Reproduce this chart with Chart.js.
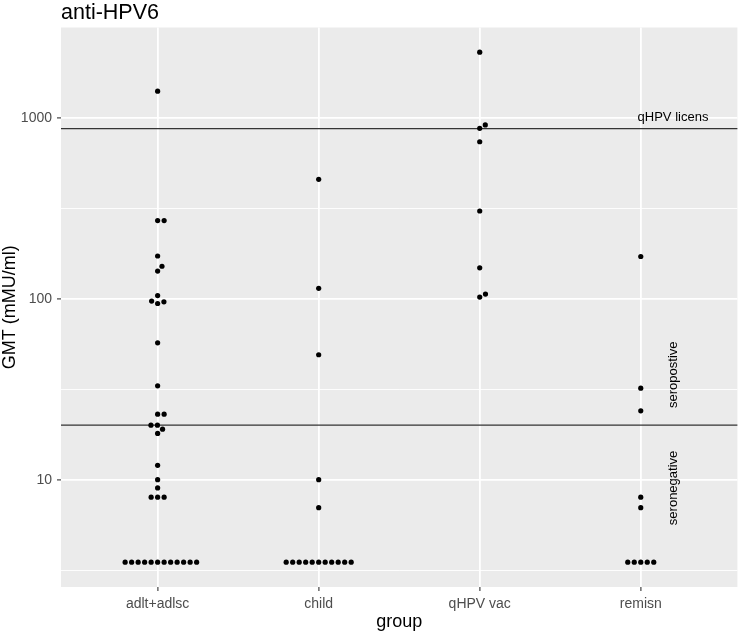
<!DOCTYPE html>
<html>
<head>
<meta charset="utf-8">
<script src="https://cdn.jsdelivr.net/npm/chart.js@4/dist/chart.umd.min.js"></script>
<style>
  html, body { margin: 0; padding: 0; background: #ffffff; }
  canvas { display: block; }
</style>
</head>
<body>
<canvas id="myChart" width="740" height="632"></canvas>
<script>
var groups = ["adlt+adlsc", "child", "qHPV vac", "remisn"];

// GMT values, one list per group
var adultGmt = [1400, 270, 270, 172, 151, 142, 104, 97, 96, 94, 57, 33, 23, 23, 20, 20, 19, 18, 12, 10, 9, 8, 8, 8,
                3.5, 3.5, 3.5, 3.5, 3.5, 3.5, 3.5, 3.5, 3.5, 3.5, 3.5, 3.5];
var childGmt = [456, 114, 49, 10, 7,
                3.5, 3.5, 3.5, 3.5, 3.5, 3.5, 3.5, 3.5, 3.5, 3.5, 3.5];
var vacGmt = [2300, 911, 873, 736, 305, 148, 106, 102];
var remisnGmt = [171, 32, 24, 8, 7, 3.5, 3.5, 3.5, 3.5, 3.5];
var series = [adultGmt, childGmt, vacGmt, remisnGmt];

var yTicks = [10, 100, 1000];
var yTickLabels = ["10", "100", "1000"];
var yMinorGrid = [3.162, 31.62, 316.2];

var refLines = [870, 20];
var notes = [
    { text: "qHPV licens", x: 4.2, y: 1000, rotate: false },
    { text: "seropostive", x: 4.2, y: 38, rotate: true },
    { text: "seronegative", x: 4.2, y: 9, rotate: true }
];

var fontFamily = "'Liberation Sans', Arial, sans-serif";
var dotGap = 6.5;

var datasets = series.map(function (vals, gi) {
    return {
        label: groups[gi],
        data: vals.map(function (v) { return { x: gi + 1, y: v }; }),
        backgroundColor: "#000000",
        borderWidth: 0,
        pointRadius: 2.6,
        pointHoverRadius: 2.6
    };
});

function isMajor(v) {
    return yTicks.some(function (t) { return Math.abs(t - v) < 1e-6; });
}

var panelPlugin = {
    id: "panel",
    beforeDraw: function (chart) {
        var c = chart.ctx, a = chart.chartArea;
        c.save();
        c.fillStyle = "#EBEBEB";
        c.fillRect(a.left, a.top, a.right - a.left, a.bottom - a.top);
        c.restore();
    },
    beforeDatasetsDraw: function (chart) {
        var c = chart.ctx, a = chart.chartArea;
        var xs = chart.scales.x, ys = chart.scales.y;
        c.save();
        c.strokeStyle = "#333333";
        c.lineWidth = 1.3;
        refLines.forEach(function (v) {
            var py = ys.getPixelForValue(v);
            c.beginPath();
            c.moveTo(a.left, py);
            c.lineTo(a.right, py);
            c.stroke();
        });
        c.fillStyle = "#000000";
        c.font = "13px " + fontFamily;
        c.textAlign = "center";
        c.textBaseline = "middle";
        notes.forEach(function (n) {
            var px = xs.getPixelForValue(n.x), py = ys.getPixelForValue(n.y);
            c.save();
            c.translate(px, py);
            if (n.rotate) c.rotate(-Math.PI / 2);
            c.fillText(n.text, 0, 0);
            c.restore();
        });
        c.restore();
    },
    afterDraw: function (chart) {
        var c = chart.ctx, a = chart.chartArea;
        c.save();
        c.fillStyle = "#000000";
        c.font = "21.5px " + fontFamily;
        c.textAlign = "left";
        c.textBaseline = "alphabetic";
        c.fillText("anti-HPV6", a.left, 19);

        c.font = "18px " + fontFamily;
        c.textAlign = "center";
        c.fillText("group", (a.left + a.right) / 2, 626.5);

        c.translate(10, (a.top + a.bottom) / 2);
        c.rotate(-Math.PI / 2);
        c.textBaseline = "middle";
        c.fillText("GMT (mMU/ml)", 0, 0);
        c.restore();
    }
};

var ctx = document.getElementById("myChart");
var myChart = new Chart(ctx, {
    type: "scatter",
    data: { datasets: datasets },
    options: {
        responsive: false,
        animation: false,
        events: [],
        layout: { padding: { top: 27.5, right: 1, left: 0, bottom: 0 } },
        plugins: {
            legend: { display: false },
            tooltip: { enabled: false },
            title: { display: false }
        },
        scales: {
            x: {
                type: "linear",
                min: 0.4,
                max: 4.6,
                afterBuildTicks: function (s) {
                    s.ticks = groups.map(function (g, i) { return { value: i + 1 }; });
                },
                afterFit: function (s) { s.height = 45; },
                border: { display: false },
                grid: {
                    color: "#FFFFFF",
                    lineWidth: 1.8,
                    tickLength: 4,
                    tickColor: "#333333",
                    tickWidth: 1.1
                },
                ticks: {
                    autoSkip: false,
                    maxRotation: 0,
                    padding: 5,
                    color: "#4D4D4D",
                    font: { family: fontFamily, size: 14 },
                    callback: function (v) { return groups[Math.round(v) - 1] || ""; }
                }
            },
            y: {
                type: "logarithmic",
                min: Math.pow(10, 0.407),
                max: Math.pow(10, 3.498),
                afterBuildTicks: function (s) {
                    var all = yMinorGrid.concat(yTicks).sort(function (p, q) { return p - q; });
                    s.ticks = all.map(function (v) { return { value: v }; });
                },
                afterFit: function (s) { s.width = 61; },
                border: { display: false },
                grid: {
                    color: "#FFFFFF",
                    lineWidth: function (c) { return c.tick && isMajor(c.tick.value) ? 1.8 : 0.9; },
                    tickLength: 4,
                    tickColor: function (c) { return c.tick && isMajor(c.tick.value) ? "#333333" : "rgba(0,0,0,0)"; },
                    tickWidth: 1.1
                },
                ticks: {
                    padding: 5,
                    color: "#4D4D4D",
                    font: { family: fontFamily, size: 14 },
                    callback: function (v) {
                        var k = yTicks.findIndex(function (t) { return Math.abs(t - v) < 1e-6; });
                        return k >= 0 ? yTickLabels[k] : "";
                    }
                }
            }
        }
    },
    plugins: [panelPlugin]
});

// spread equal / close values sideways like a beeswarm, using the laid-out scales
function swarm(chart) {
    var xs = chart.scales.x, ys = chart.scales.y;
    var unit = xs.getPixelForValue(1) - xs.getPixelForValue(0);
    chart.data.datasets.forEach(function (ds, gi) {
        var vals = series[gi];
        var order = vals.map(function (v, i) { return i; });
        order.sort(function (p, q) { return vals[p] - vals[q]; });
        var placed = [];
        order.forEach(function (i) {
            var py = ys.getPixelForValue(vals[i]);
            var cands = [0];
            placed.forEach(function (p) {
                var dy = py - p.y;
                if (Math.abs(dy) < dotGap) {
                    var dx = Math.sqrt(dotGap * dotGap - dy * dy);
                    cands.push(p.x + dx, p.x - dx);
                }
            });
            var ok = cands.filter(function (cx) {
                return placed.every(function (p) {
                    return (cx - p.x) * (cx - p.x) + (py - p.y) * (py - p.y) >= dotGap * dotGap - 0.01;
                });
            });
            ok.sort(function (p, q) {
                var d = Math.abs(p) - Math.abs(q);
                return Math.abs(d) < 1e-6 ? q - p : d;
            });
            var x = ok[0];
            placed.push({ x: x, y: py });
            ds.data[i].x = gi + 1 + x / unit;
        });
    });
    chart.update("none");
}
swarm(myChart);
</script>
</body>
</html>
